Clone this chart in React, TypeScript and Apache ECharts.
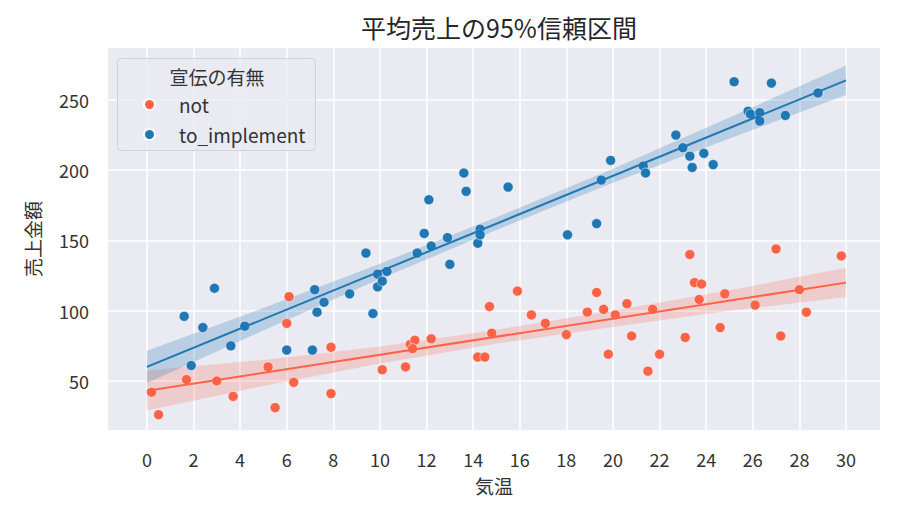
import { useEffect, useRef } from 'react';
import * as echarts from 'echarts';

const FONT = '"Noto Sans CJK JP", "Noto Sans", sans-serif';
const TEXT_COLOR = '#333';
const RED = '#ff6347';
const BLUE = '#1f77b4';

const xTicks = [0, 2, 4, 6, 8, 10, 12, 14, 16, 18, 20, 22, 24, 26, 28, 30];
const yTicks = [50, 100, 150, 200, 250];

// 宣伝なし (not): [気温, 売上金額]
const notPoints: [number, number][] = [
  [0.2, 42], [0.5, 26], [1.7, 51], [3.0, 50], [3.7, 39], [5.2, 60], [5.5, 31],
  [6.1, 110], [6.0, 91], [6.3, 49], [7.9, 74], [7.9, 41], [10.1, 58], [11.1, 60],
  [11.3, 76], [11.5, 79], [11.4, 73], [12.2, 80], [14.2, 67], [14.5, 67], [14.7, 103],
  [14.8, 84], [15.9, 114], [16.5, 97], [17.1, 91], [18.0, 83], [18.9, 99], [19.3, 113],
  [19.6, 101], [19.8, 69], [20.1, 97], [20.6, 105], [20.8, 82], [21.5, 57], [21.7, 101],
  [22.0, 69], [23.1, 81], [23.3, 140], [23.5, 120], [23.8, 119], [23.7, 108], [24.6, 88],
  [24.8, 112], [26.1, 104], [27.0, 144], [27.2, 82], [28.0, 115], [28.3, 99], [29.8, 139],
];

// 宣伝あり (to_implement)
const implPoints: [number, number][] = [
  [1.6, 96], [1.9, 61], [2.4, 88], [2.9, 116], [3.6, 75], [4.2, 89], [6.0, 72],
  [7.1, 72], [7.2, 115], [7.3, 99], [7.6, 106], [8.7, 112], [9.4, 141], [9.7, 98],
  [9.9, 126], [9.9, 117], [10.1, 121], [10.3, 128], [11.6, 141], [11.9, 155], [12.1, 179],
  [12.2, 146], [12.9, 152], [13.0, 133], [13.6, 198], [13.7, 185], [14.2, 148], [14.3, 158],
  [14.3, 154], [15.5, 188], [18.05, 154], [19.3, 162], [19.5, 193], [19.9, 207], [21.3, 203],
  [21.4, 198], [22.7, 225], [23.0, 216], [23.3, 210], [23.4, 202], [23.9, 212], [24.3, 204],
  [25.2, 263], [25.8, 242], [25.9, 240], [26.3, 241], [26.3, 235], [26.8, 262], [27.4, 239],
  [28.8, 255],
];

// 回帰直線の端点と95%信頼区間
const notFit: [number, number][] = [[0, 43], [30, 120]];
const implFit: [number, number][] = [[0, 60], [30, 264]];

const bandX = [0, 5, 10, 15, 20, 25, 30];
const notUpper = [57.5, 65, 74.5, 86.5, 100, 114.5, 130.5];
const notLower = [29, 46.5, 62.5, 76.5, 88.5, 100, 109.5];
const implUpper = [71.5, 102, 133.5, 166.5, 201, 237.5, 274.5];
const implLower = [48.5, 86, 122.5, 157.5, 191, 222.5, 253.5];

function bandSeries(name: string, upper: number[], lower: number[], fill: string) {
  return {
    name,
    type: 'custom',
    silent: true,
    clip: true,
    z: 1,
    data: [0],
    renderItem: (params: any, api: any) => {
      if (params.dataIndex !== 0) return null;
      const top = bandX.map((x, i) => api.coord([x, upper[i]]));
      const bottom = bandX.map((x, i) => api.coord([x, lower[i]])).reverse();
      return {
        type: 'polygon',
        shape: { points: top.concat(bottom) },
        style: { fill },
      };
    },
  };
}

export default function App() {
  const ref = useRef<HTMLDivElement>(null);

  useEffect(() => {
    document.body.style.margin = '0';
    if (!ref.current) return;
    const chart = echarts.init(ref.current, undefined, { renderer: 'svg' });

    chart.setOption({
      animation: false,
      textStyle: { fontFamily: FONT },
      title: {
        text: '平均売上の95%信頼区間',
        left: 494,
        top: 9,
        textAlign: 'center',
        textStyle: { fontSize: 25, fontWeight: 'normal', color: '#262626', fontFamily: FONT },
      },
      grid: {
        left: 108,
        right: 21,
        top: 48,
        bottom: 81,
        show: true,
        backgroundColor: '#eaeaf2',
        borderWidth: 0,
      },
      legend: {
        data: ['not', 'to_implement'],
        orient: 'vertical',
        left: 138,
        top: 90,
        icon: 'circle',
        itemWidth: 11,
        itemHeight: 11,
        itemGap: 11,
        z: 6,
        textStyle: {
          fontSize: 19,
          lineHeight: 18,
          color: TEXT_COLOR,
          fontFamily: FONT,
          padding: [0, 0, 0, 19],
        },
      },
      graphic: [
        {
          type: 'rect',
          z: 5,
          shape: { x: 117.5, y: 58.5, width: 198, height: 92, r: 4 },
          style: { fill: 'rgba(234,234,242,0.85)', stroke: '#d2d2da', lineWidth: 1 },
        },
        {
          type: 'text',
          z: 6,
          x: 217,
          y: 76,
          style: {
            text: '宣伝の有無',
            fontSize: 19,
            fontFamily: FONT,
            fill: TEXT_COLOR,
            align: 'center',
            verticalAlign: 'middle',
          },
        },
      ],
      xAxis: {
        type: 'value',
        min: -1.67,
        max: 31.46,
        name: '気温',
        nameLocation: 'middle',
        nameGap: 46,
        nameTextStyle: { fontSize: 19, color: TEXT_COLOR, fontFamily: FONT },
        axisLine: { show: false },
        axisTick: { show: false, customValues: xTicks },
        axisLabel: { customValues: xTicks, fontSize: 18, color: TEXT_COLOR, margin: 20 },
        splitLine: { show: true, lineStyle: { color: '#ffffff', width: 1.5 } },
      },
      yAxis: {
        type: 'value',
        min: 15.1,
        max: 287,
        name: '売上金額',
        nameLocation: 'middle',
        nameRotate: 90,
        nameGap: 66,
        nameTextStyle: { fontSize: 19, color: TEXT_COLOR, fontFamily: FONT },
        axisLine: { show: false },
        axisTick: { show: false, customValues: yTicks },
        axisLabel: { customValues: yTicks, fontSize: 18, color: TEXT_COLOR, margin: 19 },
        splitLine: { show: true, lineStyle: { color: '#ffffff', width: 1.5 } },
      },
      series: [
        bandSeries('not_ci', notUpper, notLower, 'rgba(255,99,71,0.22)'),
        bandSeries('impl_ci', implUpper, implLower, 'rgba(31,119,180,0.24)'),
        {
          name: 'not',
          type: 'scatter',
          data: notPoints,
          symbolSize: 10,
          z: 2,
          itemStyle: { color: RED, borderColor: '#ffffff', borderWidth: 0.5, opacity: 1 },
        },
        {
          name: 'to_implement',
          type: 'scatter',
          data: implPoints,
          symbolSize: 10,
          z: 2,
          itemStyle: { color: BLUE, borderColor: '#ffffff', borderWidth: 0.5, opacity: 1 },
        },
        {
          name: 'not_fit',
          type: 'line',
          data: notFit,
          showSymbol: false,
          silent: true,
          z: 3,
          lineStyle: { color: RED, width: 2 },
        },
        {
          name: 'impl_fit',
          type: 'line',
          data: implFit,
          showSymbol: false,
          silent: true,
          z: 3,
          lineStyle: { color: BLUE, width: 2 },
        },
      ],
    });

    return () => {
      chart.dispose();
    };
  }, []);

  return <div ref={ref} style={{ width: 901, height: 511 }} />;
}
